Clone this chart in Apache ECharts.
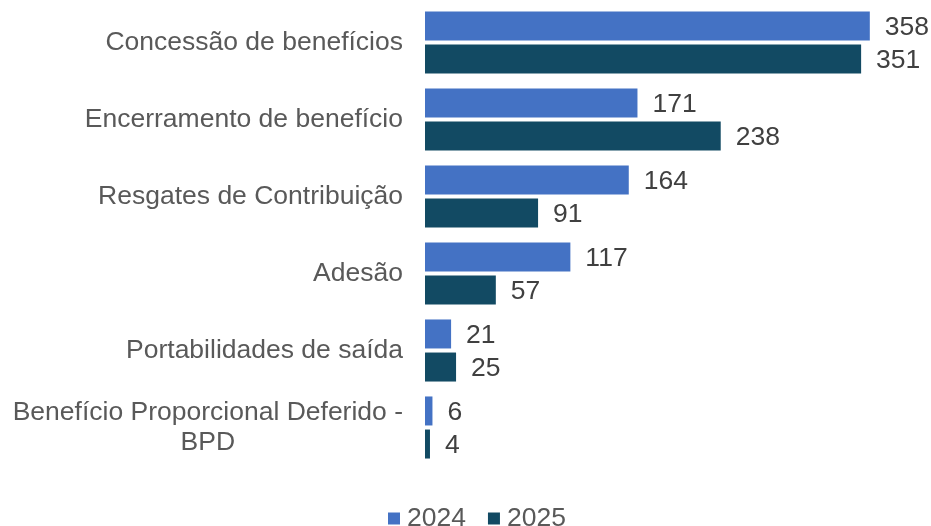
<!DOCTYPE html>
<html>
<head>
<meta charset="utf-8">
<script src="https://cdn.jsdelivr.net/npm/echarts@6/dist/echarts.min.js"></script>
<style>
  html, body { margin: 0; padding: 0; background: #fff; }
  #chart { width: 931px; height: 526px; }
</style>
</head>
<body>
<div id="chart"></div>
<script>
var categories = ['Concessão de benefícios', 'Encerramento de benefício', 'Resgates de Contribuição',
  'Adesão', 'Portabilidades de saída', 'Benefício Proporcional Deferido -\nBPD'];
var values2024 = [358, 171, 164, 117, 21, 6];
var values2025 = [351, 238, 91, 57, 25, 4];
var seriesNames = ['2024', '2025'];

var chart = echarts.init(document.getElementById('chart'));

var textColor = '#595959';
var valueColor = '#404040';
var font = 'Liberation Sans, Arial, sans-serif';
var fs = 26.5;

var option = {
  animation: false,
  // grid sized so bar ends line up with the picture
  grid: { left: 425, top: 4, width: 497, height: 462 },
  legend: {
    data: seriesNames,
    padding: 0,
    bottom: -6,
    left: 388,
    itemWidth: 12,
    itemHeight: 12,
    itemGap: 22,
    icon: 'rect',
    textStyle: { color: textColor, fontSize: fs, fontFamily: font, padding: [0, 0, 0, 2] }
  },
  color: ['#4472C4', '#124A63'],
  xAxis: {
    type: 'value',
    min: 0,
    max: 400,
    show: false
  },
  yAxis: {
    type: 'category',
    inverse: true,
    data: categories,
    axisLine: { show: false },
    axisTick: { show: false },
    axisLabel: {
      margin: 22,
      color: textColor,
      fontSize: fs,
      fontFamily: font,
      lineHeight: 30,
      formatter: function (v) {
        return v.split('\n').map(function (s) { return '{c|' + s + '}'; }).join('\n');
      },
      rich: {
        c: { align: 'center', color: textColor, fontSize: fs, fontFamily: font, lineHeight: 30 }
      }
    }
  },
  series: [
    {
      name: seriesNames[0],
      type: 'bar',
      data: values2024,
      barWidth: 29,
      barGap: '14%',
      label: { show: true, position: 'right', distance: 15, offset: [0, 2], color: valueColor, fontSize: fs, fontFamily: font }
    },
    {
      name: seriesNames[1],
      type: 'bar',
      data: values2025,
      barWidth: 29,
      label: { show: true, position: 'right', distance: 15, offset: [0, 2], color: valueColor, fontSize: fs, fontFamily: font }
    }
  ]
};
chart.setOption(option);
</script>
</body>
</html>
